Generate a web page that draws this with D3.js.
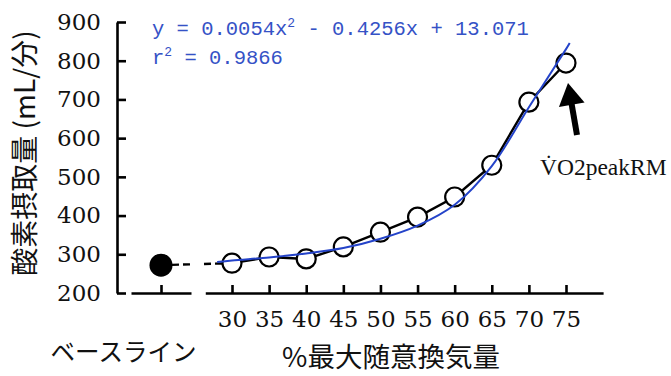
<!DOCTYPE html>
<html><head><meta charset="utf-8">
<script src="https://cdn.jsdelivr.net/npm/d3@7/dist/d3.min.js"></script>
<style>
html,body{margin:0;padding:0;background:#fff;}
svg{display:block;}
</style></head>
<body>
<svg id="chart" width="671" height="376"></svg>
<script>
// ---- data ----
const baselineLabel = "ベースライン";
const baselineValue = 272;
const pctCategories = [30, 35, 40, 45, 50, 55, 60, 65, 70, 75];
const vo2Values = [277, 293, 288, 319, 357, 396, 448, 530, 693, 794];
// blue fitted trend line
const trendX = [28, 30, 35, 40, 45, 50, 55, 60, 65, 70, 75, 75.5];
const trendY = [280, 284, 292, 302, 316, 340, 374, 428, 528, 680, 830, 846];
const yTicks = [200, 300, 400, 500, 600, 700, 800, 900];
const eqLine1 = ["y = 0.0054x", "2", " - 0.4256x + 13.071"];
const eqLine2 = ["r", "2", " = 0.9866"];
const peakLabel = "V\u0307O2peakRM";
const yTitle = "酸素摂取量 (mL/分)";
const xTitle = "%最大随意換気量";

const svg = d3.select("#chart");
const blue = "#2443c9";
const blueText = "#3552c6";

const y = d3.scaleLinear().domain([200, 900]).range([293, 22]);
const x = d3.scaleLinear().domain([30, 75]).range([232, 566]);
const xAxisScale = d3.scaleLinear().domain([26.4, 80]).range([x(26.4), x(80)]);
const xBase = d3.scalePoint().domain([baselineLabel]).range([131, 191]).padding(0.5);
const axisX0 = 117;

// Y axis
const yAxis = svg.append("g").attr("transform", `translate(${axisX0},0)`)
  .call(d3.axisLeft(y).tickValues(yTicks).tickSize(-9).tickSizeOuter(0).tickPadding(16));
yAxis.selectAll("path,line").attr("stroke", "#000").attr("stroke-width", 2.6);
yAxis.selectAll("text").attr("font-family", "DejaVu Serif").attr("font-size", 23).attr("fill", "#111");

// X axis - baseline segment
const yBottom = y(200);
const xa1 = svg.append("g").attr("transform", `translate(0,${yBottom})`)
  .call(d3.axisBottom(xBase).tickSize(-8).tickSizeOuter(0).tickFormat(""));
xa1.selectAll("path,line").attr("stroke", "#000").attr("stroke-width", 2.6);
// X axis - main segment
const xa2 = svg.append("g").attr("transform", `translate(0,${yBottom})`)
  .call(d3.axisBottom(xAxisScale).tickValues(pctCategories).tickSize(-8).tickSizeOuter(0).tickPadding(18));
xa2.selectAll("path,line").attr("stroke", "#000").attr("stroke-width", 2.6);
xa2.selectAll("text").attr("font-family", "DejaVu Serif").attr("font-size", 23).attr("fill", "#111").attr("dy", "0.71em");

// dashed baseline connector, broken at the axis gap
const bx = xBase(baselineLabel), by = y(baselineValue);
const fx = x(pctCategories[0]), fy = y(vo2Values[0]);
const gapL = 193, gapR = 204;
const lerpY = px => by + (fy - by) * (px - bx) / (fx - bx);
[[bx, gapL], [gapR, fx]].forEach(([a, b]) => {
  svg.append("line").attr("x1", a).attr("y1", lerpY(a)).attr("x2", b).attr("y2", lerpY(b))
    .attr("stroke", "#000").attr("stroke-width", 2.4).attr("stroke-dasharray", "7,4");
});

// black data line
const pts = pctCategories.map((c, i) => [c, vo2Values[i]]);
svg.append("path").datum(pts)
  .attr("d", d3.line().x(d => x(d[0])).y(d => y(d[1])))
  .attr("fill", "none").attr("stroke", "#000").attr("stroke-width", 2.4);

// baseline filled circle
svg.append("circle").attr("cx", bx).attr("cy", by).attr("r", 11.5).attr("fill", "#000");

// open circles
svg.selectAll("circle.pt").data(pts).enter().append("circle").attr("class", "pt")
  .attr("cx", d => x(d[0])).attr("cy", d => y(d[1])).attr("r", 9.5)
  .attr("fill", "#fff").attr("stroke", "#000").attr("stroke-width", 2.2);

// blue trend line
const trend = trendX.map((v, i) => [v, trendY[i]]);
svg.append("path").datum(trend)
  .attr("d", d3.line().curve(d3.curveCatmullRom.alpha(0.5)).x(d => x(d[0])).y(d => y(d[1])))
  .attr("fill", "none").attr("stroke", blue).attr("stroke-width", 2);

// equation text
function eq(parts, yy) {
  const t = svg.append("text").attr("x", 152).attr("y", yy)
    .attr("font-family", "Liberation Mono").attr("font-size", 20.5).attr("fill", blueText)
    .attr("xml:space", "preserve").style("white-space", "pre");
  t.append("tspan").text(parts[0]);
  t.append("tspan").attr("font-size", 13).attr("dy", -8).text(parts[1]);
  t.append("tspan").attr("dy", 8).text(parts[2]);
}
eq(eqLine1, 35);
eq(eqLine2, 64);

// arrow to peak
const last = pts[pts.length - 1];
const tip = [x(last[0]) + 2, y(last[1]) + 20];
const tail = [x(last[0]) + 11, y(last[1]) + 72];
const dx = tip[0] - tail[0], dy = tip[1] - tail[1];
const L = Math.hypot(dx, dy), ux = dx / L, uy = dy / L;
const headLen = 22, headHalf = 13;
const base = [tip[0] - ux * headLen, tip[1] - uy * headLen];
svg.append("line").attr("x1", tail[0]).attr("y1", tail[1]).attr("x2", base[0] + ux * 2).attr("y2", base[1] + uy * 2)
  .attr("stroke", "#000").attr("stroke-width", 6);
svg.append("path").attr("d", d3.line()([tip, [base[0] - uy * headHalf, base[1] + ux * headHalf], [base[0] + uy * headHalf, base[1] - ux * headHalf]]) + "Z")
  .attr("fill", "#000");

// peak label
svg.append("text").attr("x", 540).attr("y", 175)
  .attr("font-family", "Liberation Serif").attr("font-size", 23.5).attr("fill", "#111")
  .text(peakLabel);

// axis titles
svg.append("text").attr("transform", "translate(35,153) rotate(-90)")
  .attr("text-anchor", "middle").attr("font-family", "Noto Sans CJK JP").attr("font-size", 28)
  .attr("fill", "#111").text(yTitle);
svg.append("text").attr("x", 123.5).attr("y", 361).attr("text-anchor", "middle")
  .attr("font-family", "Noto Sans CJK JP").attr("font-size", 24.5).attr("fill", "#111").text(baselineLabel);
svg.append("text").attr("x", 391).attr("y", 367).attr("text-anchor", "middle")
  .attr("font-family", "Noto Sans CJK JP").attr("font-size", 27.5).attr("fill", "#111").text(xTitle);
</script>
</body></html>
